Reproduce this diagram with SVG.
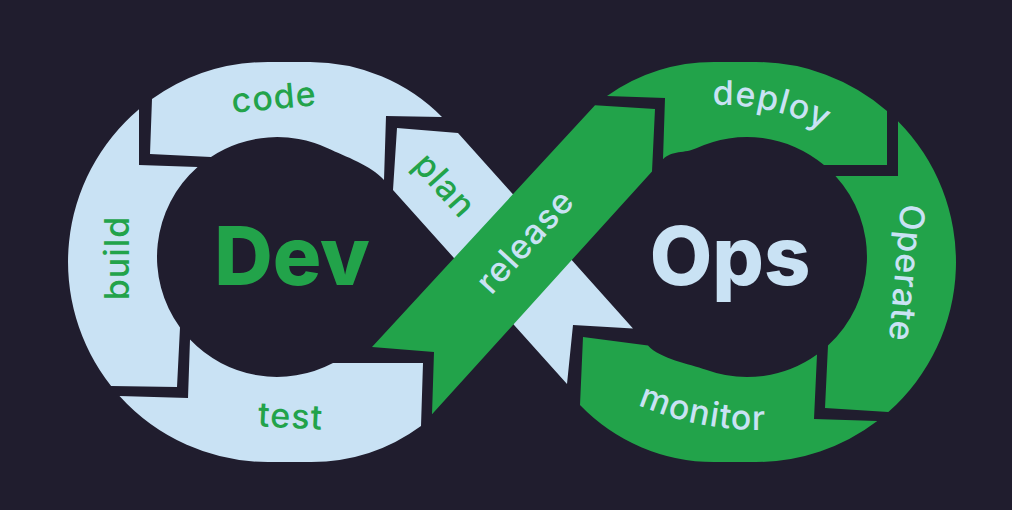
<svg xmlns="http://www.w3.org/2000/svg" width="1012" height="510" viewBox="0 0 1012 510">
<style>
.lb{fill:#c9e2f4}
.gr{fill:#22a34a}
.t{font-family:Inter,"Noto Sans",sans-serif;font-size:34px;font-weight:500;letter-spacing:1px}
.tg{fill:#22a34a}
.tl{fill:#c9e2f4}
.big{font-family:Inter,"Noto Sans",sans-serif;font-size:81px;font-weight:800}
</style>
<defs>
<path id="arcDeploy" d="M660.5,112.8 A230,230 0 0 1 882.6,172.4"/>
<path id="arcMonitor" d="M565.8,362.2 A312,312 0 0 0 848.6,417.2"/>
</defs>
<rect width="1012" height="510" fill="#201d2e"/>
<g id="code">
<path class="lb" d="M386,116 L442,117 A186,186 0 0 0 310,62 L268,62 A200,200 0 0 0 152,99.1 L150,154 L211,157 A120,120 0 0 1 327.7,148.2 C345.8,156.7 370.7,165.1 384,180 Z"/>
<text class="t tg" transform="translate(275,109) rotate(-5)" text-anchor="middle">code</text>
</g>
<g id="build">
<path class="lb" d="M139,165 L139,109.2 A200,200 0 0 0 111.1,386 L177,387 L180,327.6 A120,120 0 0 1 197.6,167 Z"/>
<text class="t tg" transform="translate(129,258) rotate(-90)" text-anchor="middle">build</text>
</g>
<g id="test">
<path class="lb" d="M188,398 L119.5,396 A200,200 0 0 0 268,462 L310,462 A186,186 0 0 0 421,426 L423,363 L333,363 A120,120 0 0 1 190,339.6 Z"/>
<text class="t tg" transform="translate(290,428) rotate(3)" text-anchor="middle">test</text>
</g>
<g id="plan">
<path class="lb" d="M397,128 L458,133 L633,328.5 L573,325 L567,384 L393,190 Z"/>
<text class="t tg" transform="translate(443,187) rotate(48)" text-anchor="middle" y="9">plan</text>
</g>
<g id="deploy">
<path class="gr" d="M665,98 L607,95.9 A186,186 0 0 1 714,62 L756,62 A200,200 0 0 1 887,110.9 L887,165 L824,165 A120,120 0 0 0 696.3,148.2 C685.4,153.3 671.1,150.4 663,159.3 Z"/>
<text class="t tl"><textPath href="#arcDeploy" startOffset="46%" text-anchor="middle">deploy</textPath></text>
</g>
<g id="operate">
<path class="gr" d="M898,176 L898,121.2 A200,200 0 0 1 888.3,412 L825,408 L828,345.5 A120,120 0 0 0 835.5,176 Z"/>
<text class="t tl" transform="translate(895,272) rotate(95)" text-anchor="middle">Operate</text>
</g>
<g id="monitor">
<path class="gr" d="M814,419 L877.3,421 A200,200 0 0 1 756,462 L714,462 A186,186 0 0 1 580,405 L583,337 L648,345.4 C660,358.8 689.1,363.6 706,369.8 A120,120 0 0 0 817,354.5 Z"/>
<text class="t tl"><textPath href="#arcMonitor" startOffset="50%" text-anchor="middle">monitor</textPath></text>
</g>
<g id="release">
<path class="gr" d="M434,352 L372,347 L595,105.3 L655,109 L652,171.4 L432,414.3 Z"/>
<text class="t tl" transform="translate(527,243) rotate(-47.7)" text-anchor="middle" y="9">release</text>
</g>
<g id="dev">
<text class="big tg" x="292" y="285" text-anchor="middle">Dev</text>
</g>
<g id="ops">
<text class="big tl" x="730" y="285" text-anchor="middle">Ops</text>
</g>
<g id="connectors"></g>
</svg>
